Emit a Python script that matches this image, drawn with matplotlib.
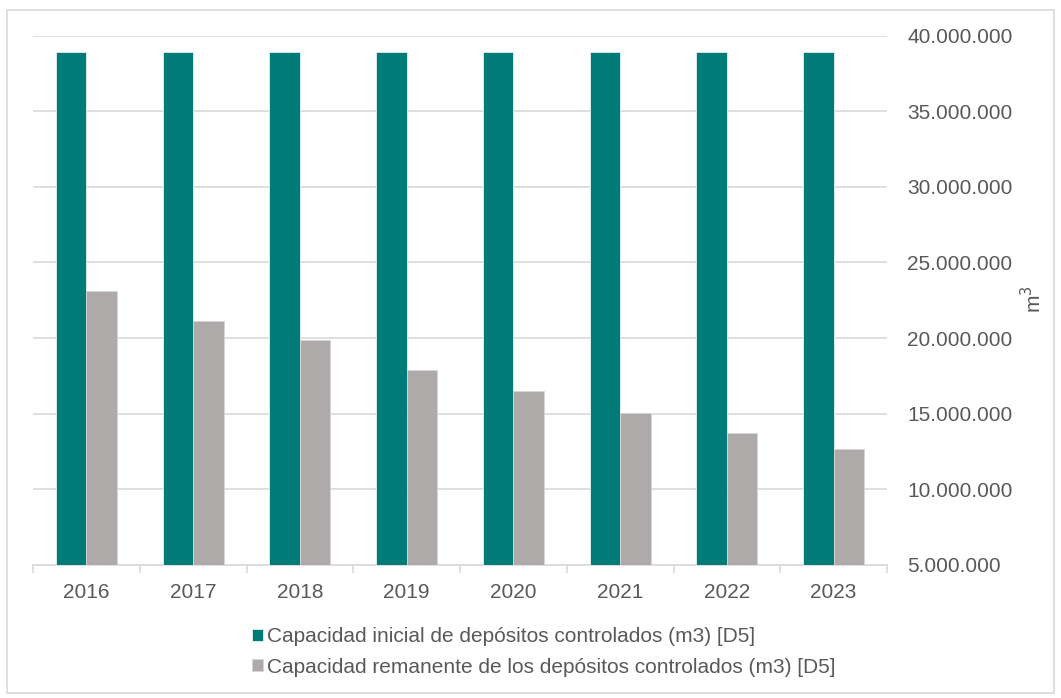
import matplotlib
matplotlib.use("Agg")
import matplotlib.pyplot as plt
from matplotlib.ticker import FuncFormatter, FixedLocator
from matplotlib.patches import Rectangle
import numpy as np

years = ["2016", "2017", "2018", "2019", "2020", "2021", "2022", "2023"]
capacidad_inicial = [38.9e6, 38.9e6, 38.9e6, 38.9e6, 38.9e6, 38.9e6, 38.9e6, 38.9e6]
capacidad_remanente = [23.1e6, 21.1e6, 19.85e6, 17.9e6, 16.5e6, 15.05e6, 13.75e6, 12.7e6]
y_ticks = [5e6, 10e6, 15e6, 20e6, 25e6, 30e6, 35e6, 40e6]

label_inicial = "Capacidad inicial de depósitos controlados (m3) [D5]"
label_remanente = "Capacidad remanente de los depósitos controlados (m3) [D5]"

teal = "#007B78"
grey = "#AEAAAA"
text_color = "#595959"
grid_color = "#D9D9D9"
fs = 15

plt.rcParams["font.family"] = ["Liberation Sans", "DejaVu Sans"]

W, H = 1061, 698
fig = plt.figure(figsize=(W / 100, H / 100), dpi=100)
ax = fig.add_axes([33 / W, 1 - 565 / H, (887 - 33) / W, (565 - 35.5) / H])

x = np.arange(len(years))
bw = 0.285
ax.bar(x - bw / 2, capacidad_inicial, bw, color=teal, edgecolor="#E6F2F2",
       linewidth=0.6, label=label_inicial, zorder=3)
ax.bar(x + bw / 2, capacidad_remanente, bw, color=grey, edgecolor="#D6D4D4",
       linewidth=0.6, label=label_remanente, zorder=3)

ax.set_xlim(-0.5, len(years) - 0.5)
ax.set_ylim(5e6, 40e6)

# y axis on the right, dotted thousands separator
ax.yaxis.tick_right()
ax.yaxis.set_major_locator(FixedLocator(y_ticks))
ax.yaxis.set_major_formatter(FuncFormatter(lambda v, p: f"{int(v):,}".replace(",", ".")))
ax.tick_params(axis="y", length=0, pad=14.5, labelsize=fs, labelcolor=text_color)
ax.grid(axis="y", color=grid_color, linewidth=1.2, zorder=0)

# unit label to the right of the tick labels
fig.text(1033 / W, 1 - 299 / H, "m$^3$", rotation=90, ha="center", va="center",
         fontsize=fs, color=text_color)

# category labels centred, tick marks at category boundaries
ax.set_xticks(x)
ax.set_xticklabels(years)
ax.tick_params(axis="x", length=0, pad=13, labelsize=fs, labelcolor=text_color)
ax.set_xticks(np.arange(len(years) + 1) - 0.5, minor=True)
ax.tick_params(axis="x", which="minor", length=6, color=grid_color, width=1.2)

for s in ["top", "left", "right"]:
    ax.spines[s].set_visible(False)
ax.spines["bottom"].set_color(grid_color)
ax.spines["bottom"].set_linewidth(1.2)

leg = fig.legend(loc="center", bbox_to_anchor=(544 / W, 1 - 652 / H), ncol=1,
                 frameon=False, fontsize=fs, labelcolor=text_color,
                 handlelength=0.5, handleheight=0.5, handletextpad=0.2,
                 labelspacing=0.55)

# outer chart border
fig.patches.append(Rectangle((7 / W, 5 / H), (1054 - 7) / W, (688 - 5) / H,
                             transform=fig.transFigure, fill=False,
                             edgecolor=grid_color, linewidth=1.2))

fig.savefig("out.png", dpi=100)
